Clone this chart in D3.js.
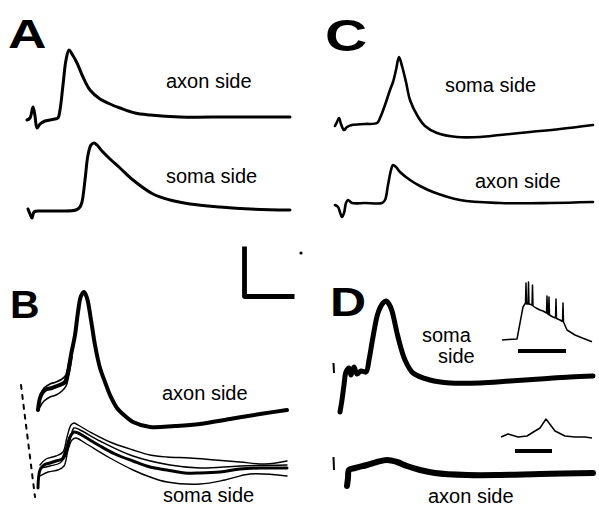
<!DOCTYPE html>
<html>
<head>
<meta charset="utf-8">
<script src="https://cdn.jsdelivr.net/npm/d3@7"></script>
<style>
  body { margin: 0; background: #fff; }
  svg { display: block; }
</style>
</head>
<body>
<div id="chart"></div>
<script>
// Recordings: [time (ms), voltage (mV)], relative to sweep start and baseline.
const axonA = [[0,-0.01],[0.3,0.01],[0.6,0.12],[0.8,0.03],[1.0,-0.09],[1.3,-0.05],[1.8,-0.02],[2.8,0],[3.1,0.01],
  [3.3,0.09],[3.6,0.34],[3.9,0.59],[4.2,0.69],[4.5,0.65],[5.0,0.56],[5.6,0.42],[6.3,0.29],[7.3,0.20],[8.3,0.15],
  [9.3,0.11],[10.8,0.06],[12.3,0.04],[15.3,0.02],[20.3,0.02],[26.3,0.02]];
const somaA = [[0,0.02],[0.2,-0.03],[0.4,-0.07],[0.6,-0.01],[1.2,0],[3.2,0],[4.8,0.01],[5.2,0.04],[5.4,0.09],
  [5.7,0.31],[6.0,0.56],[6.3,0.66],[6.6,0.68],[6.9,0.66],[7.4,0.60],[8.2,0.52],[9.2,0.43],[10.5,0.31],[12.5,0.17],
  [14.2,0.11],[16.2,0.07],[19.2,0.04],[22.2,0.02],[26.2,0.01]];

const axonB = [[0,-0.05],[0.2,0.07],[0.5,0.13],[0.9,0.16],[1.4,0.17],[1.9,0.19],[2.4,0.21],[2.7,0.23],[3.0,0.33],
  [3.3,0.50],[3.7,0.70],[4.0,0.93],[4.3,1.09],[4.6,1.13],[4.9,1.07],[5.3,0.85],[5.7,0.60],[6.2,0.37],[6.7,0.23],
  [7.2,0.10],[7.9,-0.03],[8.7,-0.11],[9.5,-0.17],[11.2,-0.22],[13.7,-0.21],[16.2,-0.19],[19.2,-0.14],[22.2,-0.09],[24.9,-0.05]];
const axonB2 = [[0.2,0.10],[0.6,0.17],[1.2,0.21],[1.8,0.23],[2.4,0.26],[2.8,0.30],[3.1,0.43],[3.4,0.57]];
const axonB3 = [[0.2,-0.02],[0.6,0.04],[1.2,0.08],[1.8,0.10],[2.4,0.14],[2.8,0.19],[3.1,0.31],[3.4,0.48]];
const somaB1 = [[0,-0.18],[0.2,0],[0.6,0.05],[1.2,0.07],[1.8,0.09],[2.4,0.11],[2.8,0.20],[3.2,0.33],[3.6,0.38],
  [4.0,0.37],[4.7,0.33],[6.2,0.24],[7.7,0.16],[9.5,0.09],[11.2,0.03],[12.9,0],[14.7,-0.03],[16.2,-0.03],[18.2,-0.02],
  [20.2,0.01],[22.2,0.02],[24.9,0.02]];
const somaB2 = [[0.2,0.05],[0.8,0.11],[1.8,0.14],[2.5,0.18],[2.9,0.33],[3.3,0.45],[3.6,0.47],[4.0,0.45],[5.2,0.38],
  [7.2,0.28],[9.5,0.20],[11.2,0.15],[12.9,0.13],[15.2,0.12],[17.7,0.10],[20.2,0.08],[22.7,0.06],[24.9,0.09]];
const somaB3 = [[0.2,-0.06],[1.0,-0.02],[2.0,0],[2.6,0.04],[3.0,0.20],[3.4,0.30],[3.8,0.32],[4.7,0.27],[7.2,0.12],
  [9.5,0],[11.2,-0.07],[12.9,-0.12],[16.2,-0.14],[18.7,-0.10],[21.2,-0.04],[24.9,-0.06]];
const somaB4 = [[0.2,0.02],[1.2,0.04],[2.2,0.07],[2.8,0.15],[3.2,0.30],[3.6,0.42],[4.2,0.40],[6.2,0.29],[9.5,0.14],
  [13.2,0.05],[16.2,0.02],[20.2,0.04],[24.9,0.05]];
const artifactB = [[-1.7,0.85],[-0.3,-0.27]];

const somaC = [[0,-0.02],[0.2,0.02],[0.4,0.06],[0.6,0],[0.9,-0.06],[1.2,-0.03],[1.7,-0.01],[3.0,0],[4.2,0.01],
  [4.5,0.06],[5.0,0.19],[5.5,0.34],[5.8,0.42],[6.1,0.54],[6.4,0.67],[6.7,0.58],[7.1,0.42],[7.5,0.24],[8.2,0.09],
  [9.0,-0.02],[10.2,-0.09],[12.2,-0.13],[14.5,-0.13],[16.5,-0.11],[19.5,-0.08],[22.5,-0.05],[25.8,-0.01]];
const axonC = [[0,-0.02],[0.3,-0.04],[0.7,-0.14],[0.9,-0.10],[1.1,0],[1.3,0.03],[1.7,0],[3.0,0],[4.7,0],[5.0,0.03],
  [5.3,0.18],[5.6,0.33],[5.8,0.38],[6.1,0.36],[6.5,0.31],[7.5,0.23],[8.5,0.17],[9.8,0.11],[12.5,0.03],[16.5,0],
  [21.5,0],[25.8,0.01]];

const somaD = [[0,-0.36],[0.2,-0.24],[0.4,-0.09],[0.6,0.04],[0.9,0.08],[1.1,0.01],[1.4,0.09],[1.7,0.02],[2.1,0.05],
  [2.6,0.04],[2.9,0.16],[3.3,0.39],[3.8,0.63],[4.3,0.73],[4.6,0.75],[4.9,0.72],[5.2,0.65],[5.8,0.39],[6.5,0.16],
  [7.3,0.03],[9.0,-0.04],[11.0,-0.07],[14.0,-0.07],[17.0,-0.05],[20.0,-0.03],[23.0,-0.01],[25.3,0]];
const axonD = [[0,-0.13],[0.1,-0.05],[0.2,0.03],[0.8,0.05],[2.0,0.08],[3.0,0.11],[4.0,0.13],[5.0,0.11],[6.0,0.07],
  [7.3,0.03],[8.8,0],[12.0,-0.02],[15.3,-0.02],[19.3,-0.01],[24.6,0]];
const tickDsoma = [[-0.65,0.13],[-0.6,0.03]];
const tickDaxon = [[-1.35,0.16],[-1.3,0.03]];

// insets in panel D (slow time base)
const insetSoma = [[0,0],[0.6,0.005],[1.5,0.01],[1.8,0.17],[2.1,0.33],[2.35,0.37],[2.4,0.57],[2.45,0.36],[2.6,0.36],
  [2.65,0.58],[2.7,0.36],[3.0,0.35],[3.05,0.55],[3.1,0.34],[3.4,0.32],[3.8,0.30],[4.1,0.29],[4.45,0.27],[4.5,0.44],
  [4.55,0.265],[4.65,0.255],[4.7,0.43],[4.75,0.25],[5.1,0.23],[5.35,0.22],[5.4,0.41],[5.45,0.215],[5.8,0.20],
  [6.05,0.185],[6.1,0.37],[6.15,0.18],[6.5,0.10],[7.3,0.05],[8.1,0.017],[9.0,-0.017]];
const insetSomaBar = [[1.6,-0.11],[6.4,-0.11]];
const insetAxon = [[0,0],[0.7,0.03],[1.7,0],[2.6,0.01],[3.4,0.06],[3.9,0.09],[4.5,0.18],[4.8,0.14],[5.4,0.06],
  [6.4,0.01],[7.4,0],[8.4,0],[9.1,-0.01]];
const insetAxonBar = [[1.4,-0.14],[5.1,-0.14]];

const scaleBar = [[0,0.5],[0,0],[5,0]];   // 5 ms, 0.5 mV

const width = 599, height = 506;
const pxPerMs = 10, pxPerMv = 100;

const svg = d3.select("#chart").append("svg")
    .attr("width", width)
    .attr("height", height);

// each sweep: data, origin (x0, y0 = baseline), stroke width
const sweeps = [
  {data: axonA, x0: 27, y0: 119, w: 3},
  {data: somaA, x0: 28, y0: 211, w: 3},
  {data: axonB, x0: 38, y0: 405, w: 4},
  {data: axonB2, x0: 38, y0: 405, w: 1.6},
  {data: axonB3, x0: 38, y0: 405, w: 1.6},
  {data: somaB2, x0: 38, y0: 470, w: 1.4},
  {data: somaB3, x0: 38, y0: 470, w: 1.4},
  {data: somaB4, x0: 38, y0: 470, w: 1.4},
  {data: somaB1, x0: 38, y0: 470, w: 3},
  {data: artifactB, x0: 38, y0: 470, w: 2, dash: "4,6", linear: true},
  {data: somaC, x0: 335, y0: 124, w: 2.6},
  {data: axonC, x0: 335, y0: 203, w: 2.6},
  {data: somaD, x0: 340, y0: 376, w: 5},
  {data: axonD, x0: 347, y0: 473, w: 6},
  {data: tickDsoma, x0: 340, y0: 376, w: 2, linear: true},
  {data: tickDaxon, x0: 347, y0: 473, w: 2, linear: true},
  {data: insetSoma, x0: 502, y0: 340, w: 1.5, linear: true},
  {data: insetSomaBar, x0: 502, y0: 340, w: 4, linear: true},
  {data: insetAxon, x0: 501, y0: 437, w: 1.5, linear: true},
  {data: insetAxonBar, x0: 501, y0: 437, w: 4, linear: true},
  {data: scaleBar, x0: 244.5, y0: 296.5, w: 4.8, linear: true}
];

sweeps.forEach(s => {
  const x = d3.scaleLinear().domain([0, 1]).range([s.x0, s.x0 + pxPerMs]);
  const y = d3.scaleLinear().domain([0, 1]).range([s.y0, s.y0 - pxPerMv]);
  const line = d3.line()
      .x(d => x(d[0]))
      .y(d => y(d[1]))
      .curve(s.linear ? d3.curveLinear : d3.curveCatmullRom.alpha(0.5));
  svg.append("path")
      .datum(s.data)
      .attr("d", line)
      .attr("fill", "none")
      .attr("stroke", "#000")
      .attr("stroke-width", s.w)
      .attr("stroke-linejoin", "round")
      .attr("stroke-linecap", s.linear && !s.dash ? "butt" : "round")
      .attr("stroke-dasharray", s.dash || null);
});

// stray dot next to the scale bar
svg.append("circle").attr("cx", 301).attr("cy", 253).attr("r", 1.6).attr("fill", "#000");

// panel letters
const letters = [
  {t: "A", x: 8, y: 48, size: 41, sx: 1.3},
  {t: "C", x: 325, y: 51, size: 44, sx: 1.33},
  {t: "B", x: 10, y: 318, size: 39, sx: 1.05},
  {t: "D", x: 330, y: 316, size: 40, sx: 1.25}
];
letters.forEach(l => {
  svg.append("text")
      .attr("transform", `translate(${l.x},${l.y}) scale(${l.sx},1)`)
      .attr("font-family", "Liberation Sans, Arial, sans-serif")
      .attr("font-weight", 700)
      .attr("font-size", l.size)
      .attr("fill", "#000")
      .text(l.t);
});

// trace labels
const labels = [
  {t: "axon side", x: 166, y: 88},
  {t: "soma side", x: 166, y: 183},
  {t: "soma side", x: 445, y: 92},
  {t: "axon side", x: 475, y: 188},
  {t: "axon side", x: 162, y: 400},
  {t: "soma side", x: 163, y: 502},
  {t: "soma", x: 422, y: 342},
  {t: "side", x: 438, y: 363},
  {t: "axon side", x: 428, y: 503}
];
svg.selectAll("text.label")
  .data(labels)
  .enter().append("text")
    .attr("class", "label")
    .attr("x", d => d.x)
    .attr("y", d => d.y)
    .attr("font-family", "Liberation Sans, Arial, sans-serif")
    .attr("font-size", 20)
    .attr("fill", "#000")
    .text(d => d.t);
</script>
</body>
</html>
